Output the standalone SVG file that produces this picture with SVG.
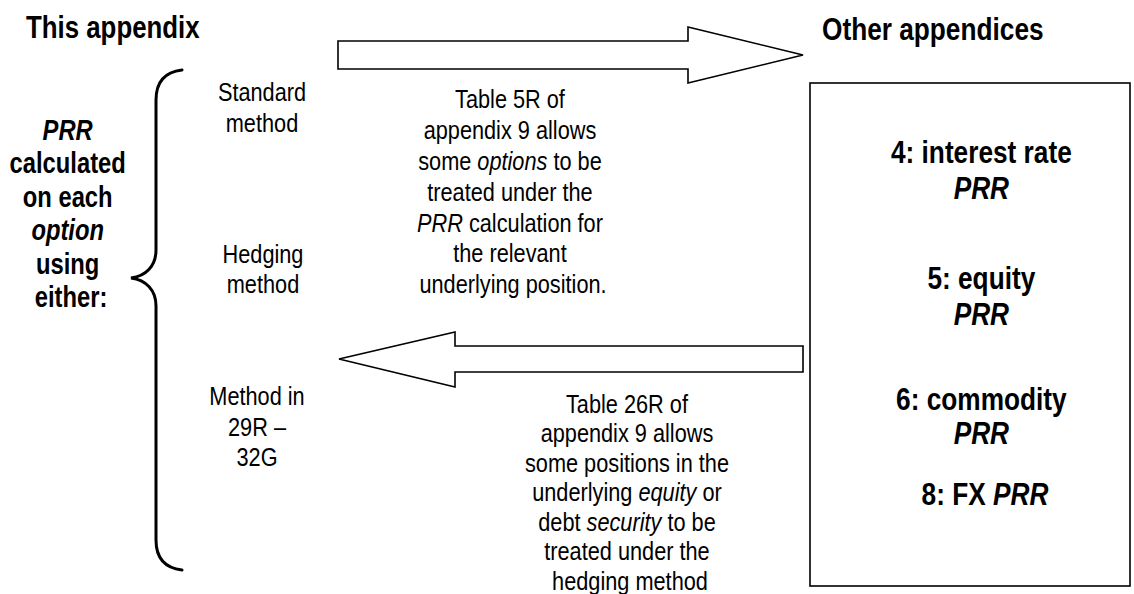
<svg xmlns="http://www.w3.org/2000/svg" width="1134" height="594" viewBox="0 0 1134 594">
<style>
text{font-family:"Liberation Sans",Arial,sans-serif;fill:#000}
.t{font-size:32px;font-weight:bold}
.b{font-size:29px;font-weight:bold}
.bb{font-size:32px;font-weight:bold}
.r{font-size:26.5px}
.i{font-style:italic}
.shape{fill:#fff;stroke:#000;stroke-width:1.6;stroke-linejoin:miter}
.brace{fill:none;stroke:#000;stroke-width:3;stroke-linecap:round}
</style>
<rect width="1134" height="594" fill="#fff"/>
<g id="title-left"><text class="t" style="font-size:31.5px" transform="translate(26,0) scale(0.82,1)" x="0" y="38">This appendix</text></g>
<g id="title-right"><text class="t" transform="translate(822,0) scale(0.82,1)" x="0" y="40">Other appendices</text></g>
<g id="brace-node">
<path class="brace" d="M182,70 C165,72 156,82 156,100 L156,250 C156,266 146,276 131,278 C146,280 156,290 156,306 L156,540 C156,558 165,568 182,570"/>
</g>
<g id="left-label"><text class="b" transform="translate(71,0) scale(0.82,1)" text-anchor="middle">
<tspan x="0" y="140" class="i">PRR</tspan>
<tspan x="0" y="173.5">calculated</tspan>
<tspan x="0" y="207">on each</tspan>
<tspan x="0" y="240.5" class="i">option</tspan>
<tspan x="0" y="274">using</tspan>
<tspan x="0" y="307.5">either:</tspan>
</text></g>
<g id="standard"><text class="r" transform="translate(262,0) scale(0.82,1)" text-anchor="middle"><tspan x="0" y="101.5">Standard</tspan><tspan x="0" y="132">method</tspan></text></g>
<g id="hedging"><text class="r" transform="translate(263,0) scale(0.82,1)" text-anchor="middle"><tspan x="0" y="263">Hedging</tspan><tspan x="0" y="293">method</tspan></text></g>
<g id="method29"><text class="r" transform="translate(257,0) scale(0.82,1)" text-anchor="middle"><tspan x="0" y="405">Method in</tspan><tspan x="0" y="436">29R –</tspan><tspan x="0" y="466">32G</tspan></text></g>
<g id="connectors">
<path class="shape" d="M338,41 L688,41 L688,27 L803,55 L688,83 L688,69 L338,69 Z"/>
<path class="shape" d="M803,346 L455,346 L455,332 L339,359 L455,387 L455,372 L803,372 Z"/>
</g>
<g id="label-top"><text class="r" transform="translate(513,0) scale(0.82,1)" text-anchor="middle">
<tspan x="0" y="108.5">Table 5R of</tspan>
<tspan x="0" y="139.3">appendix 9 allows</tspan>
<tspan x="0" y="170.1">some <tspan class="i">options</tspan> to be</tspan>
<tspan x="0" y="200.9">treated under the</tspan>
<tspan x="0" y="231.7"><tspan class="i">PRR</tspan> calculation for</tspan>
<tspan x="0" y="262.5">the relevant</tspan>
<tspan x="0" y="293.3">underlying position.</tspan>
</text></g>
<g id="label-bottom"><text class="r" transform="translate(630,0) scale(0.82,1)" text-anchor="middle">
<tspan x="0" y="413">Table 26R of</tspan>
<tspan x="0" y="442.5">appendix 9 allows</tspan>
<tspan x="0" y="472">some positions in the</tspan>
<tspan x="0" y="501.5">underlying <tspan class="i">equity</tspan> or</tspan>
<tspan x="0" y="531">debt <tspan class="i">security</tspan> to be</tspan>
<tspan x="0" y="560.5">treated under the</tspan>
<tspan x="0" y="590">hedging method</tspan>
</text></g>
<g id="other-box">
<rect class="shape" x="810" y="83" width="320" height="503"/>
<text class="bb" transform="translate(985,0) scale(0.82,1)" text-anchor="middle">
<tspan x="0" y="163">4: interest rate</tspan>
<tspan x="0" y="199" class="i">PRR</tspan>
<tspan x="0" y="289">5: equity</tspan>
<tspan x="0" y="325" class="i">PRR</tspan>
<tspan x="0" y="410">6: commodity</tspan>
<tspan x="0" y="444" class="i">PRR</tspan>
<tspan x="0" y="505">8: FX <tspan class="i">PRR</tspan></tspan>
</text>
</g>
</svg>
